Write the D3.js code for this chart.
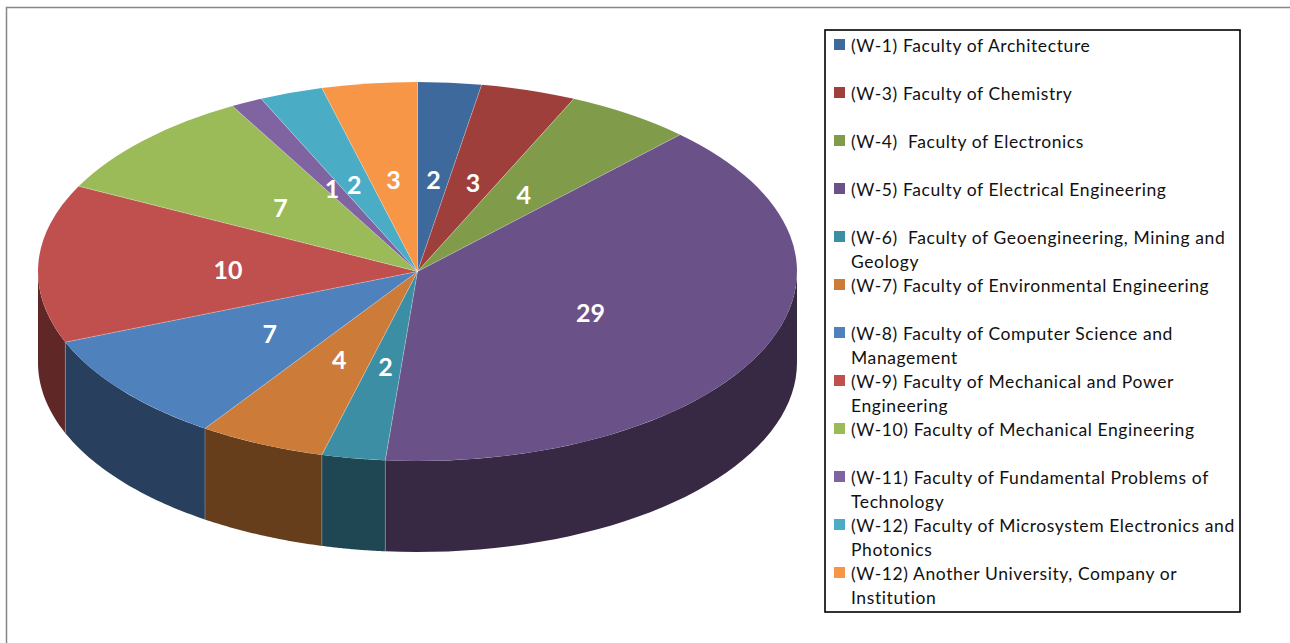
<!DOCTYPE html>
<html><head><meta charset="utf-8">
<script src="https://cdn.jsdelivr.net/npm/d3@7"></script>
<style>html,body{margin:0;background:#fff;overflow:hidden}svg{display:block}</style>
</head><body><svg id="c" width="1290" height="643"></svg>
<script>
const categories = [
  ["(W-1) Faculty of Architecture"],
  ["(W-3) Faculty of Chemistry"],
  ["(W-4)  Faculty of Electronics"],
  ["(W-5) Faculty of Electrical Engineering"],
  ["(W-6)  Faculty of Geoengineering, Mining and","Geology"],
  ["(W-7) Faculty of Environmental Engineering"],
  ["(W-8) Faculty of Computer Science and","Management"],
  ["(W-9) Faculty of Mechanical and Power","Engineering"],
  ["(W-10) Faculty of Mechanical Engineering"],
  ["(W-11) Faculty of Fundamental Problems of","Technology"],
  ["(W-12) Faculty of Microsystem Electronics and","Photonics"],
  ["(W-12) Another University, Company or","Institution"]
];
const values = [2,3,4,29,2,4,7,10,7,1,2,3];
const topColors = ["#3e699c","#9e3f3c","#809c4a","#6a5187","#3c8ea5","#cc7b38","#4f81bd","#c0504d","#9bbb59","#8064a2","#4bacc6","#f79646"];
const sideColors = ["#283f5e","#5f2726","#4d5e2c","#372943","#1e4753","#663e1b","#283f5e","#5f2726","#4d5e2c","#372943","#1e4753","#663e1b"];

const cx=417.5, cy=271.5, rx=379.5, ry=189.5, depth=91, squash=ry/rx;
const svg=d3.select("#c");
const FONT="Lato, Carlito, sans-serif";

svg.append("path").attr("d","M6.5,643V7.5H1290").attr("fill","none").attr("stroke","#868686").attr("stroke-width",1.5);

const pie=d3.pie().sort(null).value(d=>d);
const arcs=pie(values);
const arc=d3.arc().innerRadius(0).outerRadius(rx);
const rim=a=>[cx+rx*Math.sin(a),cy-ry*Math.cos(a)];

// side wall: front half of the rim only
const wall=(a0,a1)=>{
  const s=Math.max(a0,Math.PI/2), e=Math.min(a1,3*Math.PI/2);
  if(e<=s) return null;
  const t=d3.range(0,41).map(i=>s+(e-s)*i/40);
  const upper=t.map(rim);
  const lower=t.slice().reverse().map(a=>{const q=rim(a);return [q[0],q[1]+depth];});
  return d3.line()(upper.concat(lower))+"Z";
};
const walls=svg.append("g");
arcs.forEach((d,i)=>{
  const w=wall(d.startAngle,d.endAngle);
  if(w) walls.append("path").attr("d",w).attr("fill",sideColors[i]);
});
// vertical seams between visible walls
arcs.filter(d=>d.startAngle>Math.PI/2 && d.startAngle<3*Math.PI/2).forEach(d=>{
  const q=rim(d.startAngle);
  walls.append("line").attr("x1",q[0]).attr("x2",q[0]).attr("y1",q[1]).attr("y2",q[1]+depth)
    .attr("stroke","#9a9a9a").attr("stroke-opacity",.7).attr("stroke-width",.8);
});

const faces=svg.append("g").attr("transform",`translate(${cx},${cy}) scale(1,${squash})`);
faces.selectAll("path.face").data(arcs).join("path").attr("class","face")
  .attr("d",arc).attr("fill",(d,i)=>topColors[i]);
// radial seams only, no outline along the rim
const seam=d3.lineRadial();
faces.selectAll("path.seam").data(arcs).join("path").attr("class","seam")
  .attr("d",d=>seam([[d.startAngle,0],[d.startAngle,rx]]))
  .attr("fill","none").attr("stroke","#ffffff").attr("stroke-opacity",.35).attr("stroke-width",.8)
  .attr("vector-effect","non-scaling-stroke");

const labelG=svg.append("g");
arcs.forEach(d=>{
  const c=arc.centroid(d);
  labelG.append("text").attr("x",cx+c[0]).attr("y",cy+c[1]*squash+1.5)
    .attr("text-anchor","middle").attr("dominant-baseline","central")
    .attr("font-family",FONT).attr("font-weight",700).attr("font-size",25).attr("fill","#fff")
    .text(d.data);
});

// legend
svg.append("rect").attr("x",825).attr("y",30).attr("width",415).attr("height",582)
  .attr("fill","#fff").attr("stroke","#000").attr("stroke-width",1.6);
const rowY=d3.scaleLinear().domain([0,categories.length-1]).range([45,573]);
const lineStep=24.2;
categories.forEach((lines,i)=>{
  const y=rowY(i);
  svg.append("rect").attr("x",834).attr("y",y-6).attr("width",11).attr("height",11).attr("fill",topColors[i]);
  lines.forEach((t,j)=>{
    svg.append("text").attr("x",851).attr("y",y+j*lineStep).attr("dominant-baseline","central")
      .style("white-space","pre")
      .attr("font-family",FONT).attr("font-size",17.5).attr("letter-spacing",.6).attr("fill","#111").text(t);
  });
});
</script></body></html>
